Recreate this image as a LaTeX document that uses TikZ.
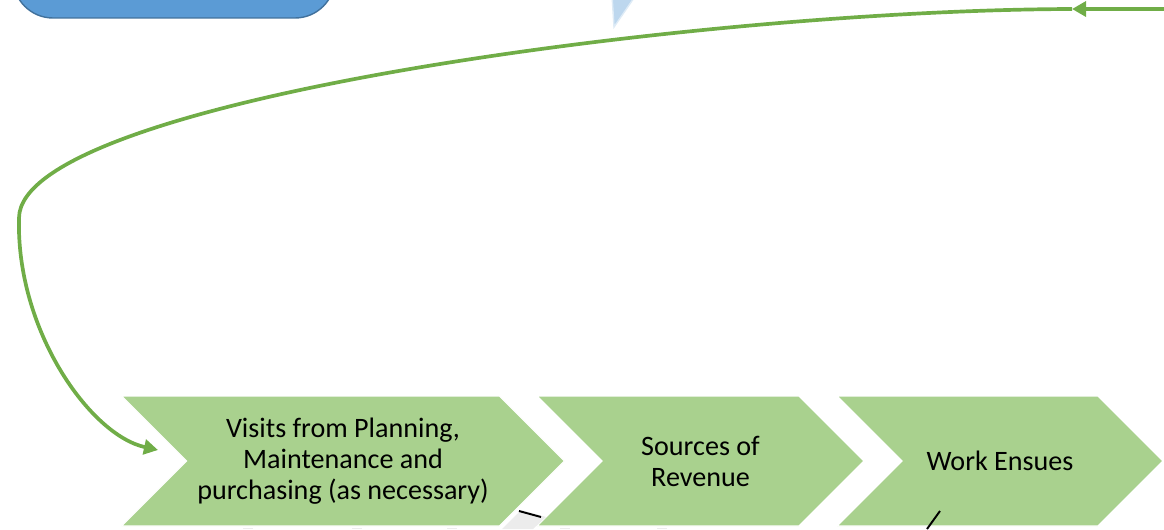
\documentclass[tikz,border=0pt]{standalone}
\usepackage{fontspec}
\setmainfont{Carlito}
\usetikzlibrary{shapes.symbols,arrows.meta}

\definecolor{stepgreen}{HTML}{A9D18E}
\definecolor{flowgreen}{HTML}{70AD47}
\definecolor{boxblue}{HTML}{5B9BD5}
\definecolor{boxedge}{HTML}{41719C}
\definecolor{tipblue}{HTML}{BDD7EE}

\begin{document}
\begin{tikzpicture}[x=0.02cm, y=-0.02cm,
                    chevron/.style={signal, signal from=west, signal to=east, signal pointer angle=90,
                                    fill=stepgreen, draw=white, line width=0.6pt,
                                    minimum height=2.6cm, inner sep=0pt, align=center,
                                    font=\fontsize{16}{17.6}\selectfont},
                    flow/.style={draw=flowgreen, line width=2.1pt, -{Triangle[length=8pt,width=8.5pt]}}
]
\useasboundingbox (0,0) rectangle (1164,529);

% partly hidden shapes at the top
\node [draw=boxedge, fill=boxblue, line width=0.8pt, rounded corners=0.8cm,
       minimum width=6.44cm, minimum height=1.96cm] at (174,-31) (topbox) {};
\fill [tipblue, draw=white!50!tipblue, line width=0.8pt] (612,-5) -- (636,-5) -- (614,27) -- cycle;

% the three steps
\node [chevron, minimum width=8.86cm] at (343,461) (visits) {Visits from Planning,\\Maintenance and\\purchasing (as necessary)};
\node [chevron, minimum width=6.54cm] at (700.5,461) (revenue) {Sources of\\Revenue};
\node [chevron, minimum width=6.52cm] at (1000,461) (work) {Work Ensues};

% loop back into the first step
\coordinate (feed) at (1164,9);
\coordinate (turn) at (1072,9);
\coordinate (entry) at (158,450);
\draw [flow] (feed) -- (turn);
\draw [flow] (turn) .. controls (700,10) and (20,100) .. (19,218)
                    .. controls (16,330) and (90,435) .. (entry);
%
% bits of shapes below, cut off
\fill [gray!15] (521,510) -- (546,517) -- (533,529) -- (502,529) -- cycle;
\draw [line width=1.1pt] (519,511) -- (541,517);
\draw [line width=1.1pt] (940,511) -- (927,529);
\foreach \x in {248,357,452,565,662}
  \fill [gray!15] (\x-5,527.8) rectangle (\x+5,529);
\end{tikzpicture}
\end{document}
